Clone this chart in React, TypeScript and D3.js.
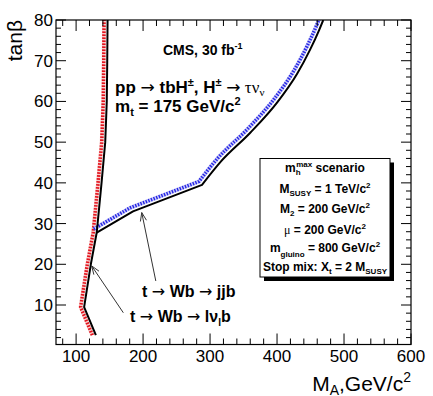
import * as d3 from 'd3'

// axis ranges and labelled ticks
const X_DOMAIN = [70, 600]
const Y_DOMAIN = [0.3, 80]
const X_TICKS = [100, 200, 300, 400, 500, 600]
const Y_TICKS = [10, 20, 30, 40, 50, 60, 70, 80]

// 5 sigma contour, t -> Wb -> l nu b (left, red hatch)
const lnubMA = [129.5, 112, 122, 130.8, 138, 143.5, 145.8, 146.5, 147]
const lnubTanB = [2.6, 9.5, 20, 27.8, 40, 50, 60, 70, 80]

// 5 sigma contour, t -> Wb -> jjb (blue hatch); straight up to the kink, smooth after
const jjbMA = [130.8, 185, 288, 316, 360, 400, 430, 449, 463, 469]
const jjbTanB = [27.8, 33, 39.5, 45.2, 52.3, 59.7, 66.8, 72.6, 77.6, 80]
const JJB_KINK = 2

// annotation arrows: [from MA, from tanB, to MA, to tanB]
const jjbArrow = [219, 15.9, 198, 32.7]
const lnubArrow = [170.5, 8.1, 123.3, 19.6]

const SANS = 'Liberation Sans, Arial, Helvetica, sans-serif'
const SERIF = 'Liberation Serif, Times New Roman, serif'
const ARROW = 'DejaVu Sans, sans-serif'

const W = 433
const H = 396
const M = { left: 56, right: 411, top: 20, bottom: 344.5 }

function Arrow({ d, x, y }) {
  const x1 = x(d[0])
  const y1 = y(d[1])
  const x2 = x(d[2])
  const y2 = y(d[3])
  const ang = Math.atan2(y1 - y2, x1 - x2)
  const len = 9
  const spread = 0.35
  const head = [ang - spread, ang + spread]
    .map((a) => `M${x2 + len * Math.cos(a)},${y2 + len * Math.sin(a)}L${x2},${y2}`)
    .join('')
  return (
    <g stroke="#333" strokeWidth={1} fill="none">
      <line x1={x1} y1={y1} x2={x2} y2={y2} />
      <path d={head} />
    </g>
  )
}

const Ar = () => (
  <tspan fontWeight="normal" fontFamily={ARROW}>
    →
  </tspan>
)

export default function App() {
  const x = d3.scaleLinear().domain(X_DOMAIN).range([M.left, M.right])
  const y = d3.scaleLinear().domain(Y_DOMAIN).range([M.bottom, M.top])

  const straight = d3
    .line<number[]>()
    .x((d) => x(d[0]))
    .y((d) => y(d[1]))
  const smooth = d3
    .line<number[]>()
    .x((d) => x(d[0]))
    .y((d) => y(d[1]))
    .curve(d3.curveMonotoneX)

  const lnub = lnubMA.map((v, i) => [v, lnubTanB[i]])
  const jjb = jjbMA.map((v, i) => [v, jjbTanB[i]])
  const lnubPath = straight(lnub)
  const jjbPath =
    straight(jjb.slice(0, JJB_KINK + 1)) + smooth(jjb.slice(JJB_KINK)).replace(/^M/, 'L')

  const xMinor = d3.range(80, 600, 20).filter((v) => v % 100 !== 0)
  const yMinor = d3.range(2, 80, 2).filter((v) => v % 10 !== 0)

  return (
    <svg
      width={W}
      height={H}
      style={{ position: 'absolute', left: 0, top: 0, background: '#fff' }}
      fontFamily={SANS}
    >
      <defs>
        <clipPath id="plot">
          <rect x={M.left} y={M.top} width={M.right - M.left} height={M.bottom - M.top} />
        </clipPath>
      </defs>

      {/* hatched bands and contours */}
      <g clipPath="url(#plot)" fill="none" strokeLinejoin="round">
        <g transform="translate(-3.5,0)">
          <path d={lnubPath} stroke="#f7cccc" strokeWidth={4} />
          <path d={lnubPath} stroke="#e3121c" strokeWidth={3.5} strokeDasharray="1.6 1.4" />
        </g>
        <g transform="translate(-3,-3.5)">
          <path d={jjbPath} stroke="#cdcdf7" strokeWidth={4} />
          <path d={jjbPath} stroke="#2626e6" strokeWidth={3.5} strokeDasharray="1.4 1.4" />
        </g>
        <path d={lnubPath} stroke="#000" strokeWidth={2} />
        <path d={jjbPath} stroke="#000" strokeWidth={2} />
      </g>

      {/* frame and ticks */}
      <rect
        x={M.left}
        y={M.top}
        width={M.right - M.left}
        height={M.bottom - M.top}
        fill="none"
        stroke="#000"
        strokeWidth={1.2}
      />
      <g stroke="#000" strokeWidth={1}>
        {X_TICKS.map((v) => (
          <g key={'xM' + v}>
            <line x1={x(v)} x2={x(v)} y1={M.bottom} y2={M.bottom - 11} />
            <line x1={x(v)} x2={x(v)} y1={M.top} y2={M.top + 11} />
          </g>
        ))}
        {xMinor.map((v) => (
          <g key={'xm' + v}>
            <line x1={x(v)} x2={x(v)} y1={M.bottom} y2={M.bottom - 6} />
            <line x1={x(v)} x2={x(v)} y1={M.top} y2={M.top + 6} />
          </g>
        ))}
        {Y_TICKS.map((v) => (
          <g key={'yM' + v}>
            <line x1={M.left} x2={M.left + 10} y1={y(v)} y2={y(v)} />
            <line x1={M.right} x2={M.right - 10} y1={y(v)} y2={y(v)} />
          </g>
        ))}
        {yMinor.map((v) => (
          <g key={'ym' + v}>
            <line x1={M.left} x2={M.left + 5} y1={y(v)} y2={y(v)} />
            <line x1={M.right} x2={M.right - 5} y1={y(v)} y2={y(v)} />
          </g>
        ))}
      </g>

      {/* tick labels */}
      <g fontSize={17} fill="#000">
        {X_TICKS.map((v) => (
          <text key={'xl' + v} x={x(v)} y={362} textAnchor="middle">
            {v}
          </text>
        ))}
        {Y_TICKS.map((v) => (
          <text key={'yl' + v} x={53} y={y(v) + 6} textAnchor="end">
            {v}
          </text>
        ))}
      </g>

      {/* axis titles */}
      <text x={411} y={391} textAnchor="end" fontSize={21}>
        M<tspan fontSize={14} dy={4}>A</tspan>
        <tspan dy={-4}>,GeV/c</tspan>
        <tspan fontSize={14} dy={-9}>2</tspan>
      </text>
      <text transform="translate(22,20) rotate(-90)" textAnchor="end" fontSize={21}>
        tanβ
      </text>

      {/* annotations */}
      <g fontWeight="bold" fill="#000">
        <text x={163} y={55} fontSize={14}>
          CMS, 30 fb<tspan fontSize={9} dy={-6}>-1</tspan>
        </text>
        <text x={115} y={93} fontSize={17}>
          pp <Ar /> tbH
          <tspan fontSize={11} dy={-7}>±</tspan>
          <tspan dy={7}>, H</tspan>
          <tspan fontSize={11} dy={-7}>±</tspan>
          <tspan dy={7}> </tspan>
          <Ar />
          <tspan fontWeight="normal" fontFamily={SERIF}> τν</tspan>
          <tspan fontWeight="normal" fontFamily={SERIF} fontSize={11} dy={3}>ν</tspan>
        </text>
        <text x={115} y={112} fontSize={17}>
          m<tspan fontSize={11} dy={4}>t</tspan>
          <tspan dy={-4}> = 175 GeV/c</tspan>
          <tspan fontSize={11} dy={-7}>2</tspan>
        </text>

        <text x={142} y={296.5} fontSize={16}>
          t <Ar /> Wb <Ar /> jjb
        </text>
        <text x={130} y={321.5} fontSize={16}>
          t <Ar /> Wb <Ar /> lν
          <tspan fontSize={10} dy={4}>l</tspan>
          <tspan dy={-4}>b</tspan>
        </text>
      </g>

      <Arrow d={jjbArrow} x={x} y={y} />
      <Arrow d={lnubArrow} x={x} y={y} />

      {/* parameter box */}
      <rect x={264} y={162.5} width={130} height={118.5} fill="#000" />
      <rect x={260} y={158.5} width={130} height={118.5} fill="#fff" stroke="#000" strokeWidth={1} />
      <g fontWeight="bold" fontSize={12} textAnchor="middle" fill="#000">
        <text x={325} y={172}>
          m<tspan fontSize={8} dy={3}>h</tspan>
          <tspan fontSize={8} dx={-4.5} dy={-8}>max</tspan>
          <tspan dy={5}> scenario</tspan>
        </text>
        <text x={325} y={193}>
          M<tspan fontSize={8} dy={3}>SUSY</tspan>
          <tspan dy={-3}> = 1 TeV/c</tspan>
          <tspan fontSize={8} dy={-5}>2</tspan>
        </text>
        <text x={325} y={213}>
          M<tspan fontSize={8} dy={3}>2</tspan>
          <tspan dy={-3}> = 200 GeV/c</tspan>
          <tspan fontSize={8} dy={-5}>2</tspan>
        </text>
        <text x={325} y={233.5}>
          <tspan fontWeight="normal" fontFamily={SERIF}>μ</tspan> = 200 GeV/c
          <tspan fontSize={8} dy={-5}>2</tspan>
        </text>
        <text x={325} y={252}>
          m<tspan fontSize={8} dy={5}>gluino</tspan>
          <tspan dy={-5}> = 800 GeV/c</tspan>
          <tspan fontSize={8} dy={-5}>2</tspan>
        </text>
        <text x={325} y={271}>
          Stop mix: X<tspan fontSize={8} dy={3}>t</tspan>
          <tspan dy={-3}> = 2 M</tspan>
          <tspan fontSize={8} dy={3}>SUSY</tspan>
        </text>
      </g>
    </svg>
  )
}
